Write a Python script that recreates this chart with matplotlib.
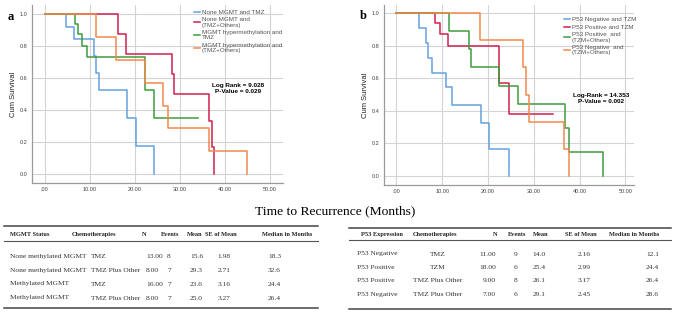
import matplotlib
matplotlib.use("Agg")
import matplotlib.pyplot as plt

# ---- data: Kaplan-Meier curves (time in months, cumulative survival) ----
a_labels = ["None MGMT and TMZ", "None MGMT and\n(TMZ+Others)",
            "MGMT hypermethylation and\nTMZ", "MGMT hypermethylation and\n(TMZ+Others)"]
a_times = [
    [0, 4.7, 6.6, 11.0, 11.4, 12.1, 18.3, 20.3, 24.4],
    [0, 16.4, 18.0, 28.4, 28.8, 36.6, 37.3, 37.7],
    [0, 6.8, 7.5, 8.3, 9.5, 22.4, 24.4, 34.2],
    [0, 11.4, 15.8, 22.4, 26.4, 27.5, 36.6, 44.9],
]
a_surv = [
    [1.0, 0.923, 0.846, 0.740, 0.634, 0.529, 0.352, 0.176, 0.0],
    [1.0, 0.875, 0.750, 0.625, 0.500, 0.333, 0.167, 0.0],
    [1.0, 0.9375, 0.875, 0.800, 0.733, 0.524, 0.349, 0.349],
    [1.0, 0.857, 0.714, 0.571, 0.429, 0.286, 0.143, 0.0],
]

b_labels = ["P53 Negative and TZM", "P53 Positive and TZM",
            "P53 Positive  and\n(TZM+Others)", "P53 Negative  and\n(TZM+Others)"]
b_times = [
    [0, 4.9, 6.4, 7.0, 7.8, 10.9, 12.1, 18.4, 20.3, 24.5],
    [0, 8.4, 9.5, 11.3, 22.5, 24.5, 34.2],
    [0, 11.4, 15.8, 16.3, 22.5, 26.5, 36.8, 37.6, 45.1],
    [0, 18.2, 27.7, 28.3, 28.9, 36.7, 37.6],
]
b_surv = [
    [1.0, 0.909, 0.818, 0.727, 0.636, 0.545, 0.436, 0.327, 0.164, 0.0],
    [1.0, 0.943, 0.873, 0.800, 0.574, 0.381, 0.381],
    [1.0, 0.889, 0.778, 0.667, 0.556, 0.444, 0.296, 0.148, 0.0],
    [1.0, 0.833, 0.667, 0.500, 0.333, 0.167, 0.0],
]

a_stats = ["Log Rank = 9.028", "P-Value = 0.029"]
b_stats = ["Log-Rank = 14.353", "P-Value = 0.002"]

x_ticks = [0, 10, 20, 30, 40, 50]
x_ticklabels = [".00", "10.00", "20.00", "30.00", "40.00", "50.00"]
y_ticks = [0.0, 0.2, 0.4, 0.6, 0.8, 1.0]

# ---- data: summary tables ----
a_header = ["MGMT Status", "Chemotherapies", "N", "Events", "Mean", "SE of Mean", "Median in Months"]
a_rows = [
    ["None methylated MGMT", "TMZ", "13.00", "8", "15.6", "1.98", "18.3"],
    ["None methylated MGMT", "TMZ Plus Other", "8.00", "7", "29.3", "2.71", "32.6"],
    ["Methylated MGMT", "TMZ", "16.00", "7", "23.6", "3.16", "24.4"],
    ["Methylated MGMT", "TMZ Plus Other", "8.00", "7", "25.0", "3.27", "26.4"],
]
b_header = ["P53 Expression", "Chemotherapies", "N", "Events", "Mean", "SE of Mean", "Median in Months"]
b_rows = [
    ["P53 Negative", "TMZ", "11.00", "9", "14.0", "2.16", "12.1"],
    ["P53 Positive", "TZM", "18.00", "6", "25.4", "2.99", "24.4"],
    ["P53 Positive", "TMZ Plus Other", "9.00", "8", "26.1", "3.17", "26.4"],
    ["P53 Negative", "TMZ Plus Other", "7.00", "6", "29.1", "2.45", "28.6"],
]

colors = ["#64a2e0", "#d12050", "#3d9c3d", "#f08a4b"]
W, H = 676, 312
SANS = "Liberation Sans"
SERIF = "Liberation Serif"

fig = plt.figure(figsize=(W / 100, H / 100), dpi=100)


def km_panel(rect, xlim, ylim, times, surv, labels, stats, stats_xy, leg_anchor, ylab_x):
    ax = fig.add_axes(rect)
    for t, s, lab, c in zip(times, surv, labels, colors):
        ax.step(t, s, where="post", color=c, lw=1.1, label=lab)
    ax.set_xlim(*xlim)
    ax.set_ylim(*ylim)
    ax.set_xticks(x_ticks)
    ax.set_xticklabels(x_ticklabels)
    ax.set_yticks(y_ticks)
    ax.set_yticklabels(["%.1f" % v for v in y_ticks])
    ax.grid(True, color="#d4d4d4", lw=0.8)
    ax.set_axisbelow(True)
    for sp in ["top", "right"]:
        ax.spines[sp].set_visible(False)
    for sp in ["left", "bottom"]:
        ax.spines[sp].set_color("#9a9a9a")
        ax.spines[sp].set_linewidth(0.9)
    ax.tick_params(length=0, pad=3, labelsize=4, labelcolor="#444444")
    for lbl in ax.get_xticklabels() + ax.get_yticklabels():
        lbl.set_family(SANS)
    ax.set_ylabel("Cum Survival", fontsize=5.5, family=SANS, color="#222222")
    ax.yaxis.set_label_coords(ylab_x, 0.5)
    ax.text(stats_xy[0], stats_xy[1], "\n".join(stats), transform=ax.transAxes,
            ha="center", va="center", fontsize=4.6, fontweight="bold",
            family=SANS, linespacing=1.1)
    leg = ax.legend(loc="upper left", bbox_to_anchor=leg_anchor, frameon=False,
                    handlelength=1.0, handletextpad=0.3,
                    labelspacing=0.4, borderaxespad=0, borderpad=0,
                    prop={"family": SANS, "size": 4.5})
    for txt in leg.get_texts():
        txt.set_color("#555555")
        txt.set_linespacing(1.05)
    return ax


km_panel([32 / W, 1 - 183 / H, 251 / W, 178 / H], (-2.8, 53.0), (-0.056, 1.058),
         a_times, a_surv, a_labels, a_stats, (0.82, 0.53), (0.645, 0.975), -0.06)
km_panel([384 / W, 1 - 185 / H, 250 / W, 180 / H], (-2.7, 51.9), (-0.055, 1.051),
         b_times, b_surv, b_labels, b_stats, (0.87, 0.48), (0.72, 0.935), -0.06)

# ---- overlay in pixel coordinates for the shared title and the tables ----
ov = fig.add_axes([0, 0, 1, 1])
ov.set_xlim(0, W)
ov.set_ylim(H, 0)
ov.axis("off")

ov.text(335, 211, "Time to Recurrence (Months)", ha="center", va="center",
        fontsize=9.7, family=SERIF)
ov.text(8, 17, "a", ha="left", va="center", fontsize=9, fontweight="bold", family=SERIF)
ov.text(360, 16, "b", ha="left", va="center", fontsize=9, fontweight="bold", family=SERIF)


def table(x0, x1, y_top, y_head, y_mid, y_rows, y_bot, header, rows, head_cols, row_cols):
    ov.plot([x0, x1], [y_top, y_top], color="#444444", lw=1.1)
    ov.plot([x0, x1], [y_mid, y_mid], color="#555555", lw=0.8)
    ov.plot([x0, x1], [y_bot, y_bot], color="#444444", lw=1.1)
    for txt, (x, ha) in zip(header, head_cols):
        ov.text(x, y_head, txt, ha=ha, va="center", fontsize=4.6,
                fontweight="bold", family=SERIF, color="#222222")
    for row, y in zip(rows, y_rows):
        for txt, (x, ha) in zip(row, row_cols):
            ov.text(x, y, txt, ha=ha, va="center", fontsize=5.4,
                    family=SERIF, color="#333333")


table(4, 318, 226, 234.5, 240.5, [256.5, 270.5, 284, 298], 308, a_header, a_rows,
      [(10, "left"), (72, "left"), (142, "left"), (161, "left"), (187, "left"),
       (205, "left"), (262, "left")],
      [(10, "left"), (91, "left"), (146, "left"), (169, "center"), (190, "left"),
       (224, "center"), (268, "left")])

table(349, 671, 227.5, 234.5, 240, [254, 267.5, 281, 294.5], 309, b_header, b_rows,
      [(361, "left"), (413, "left"), (495, "center"), (508, "left"), (533, "left"),
       (565, "left"), (609, "left")],
      [(357, "left"), (438, "center"), (496, "right"), (516, "center"), (539, "center"),
       (584, "center"), (659, "right")])

fig.savefig("out.png", dpi=100)
